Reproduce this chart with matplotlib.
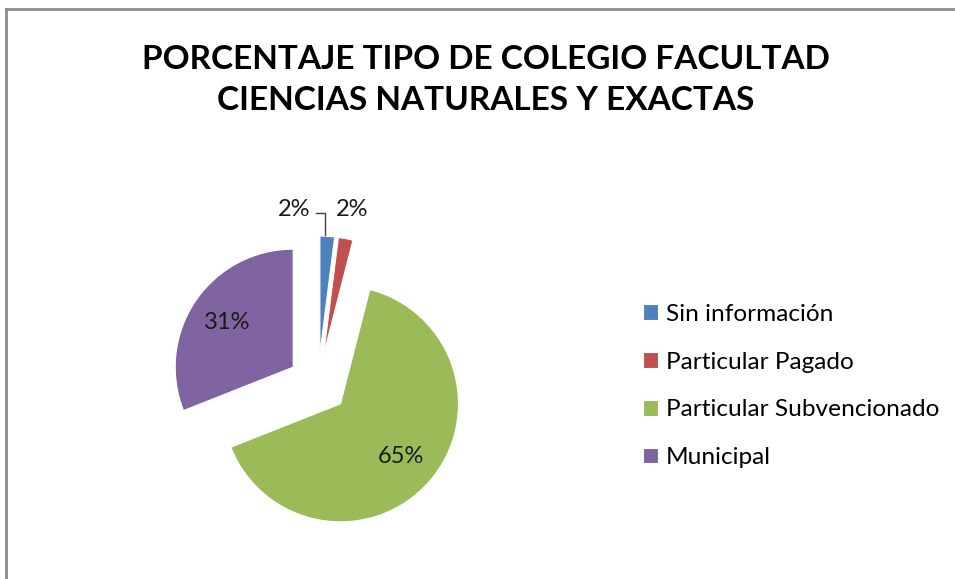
import numpy as np
import matplotlib.pyplot as plt

# data
categories = ['Sin información', 'Particular Pagado', 'Particular Subvencionado', 'Municipal']
percent = [2, 2, 65, 31]
colors = ['#4F81BD', '#C0504D', '#9BBB59', '#8064A2']
title = 'PORCENTAJE TIPO DE COLEGIO FACULTAD\nCIENCIAS NATURALES Y EXACTAS'

plt.rcParams['font.family'] = ['Lato', 'DejaVu Sans']

W, H = 955, 579
fig = plt.figure(figsize=(W / 100, H / 100), dpi=100)

# pie centre and radius in pixels (from the picture)
cx, cy, r = 318, 579 - 384, 118
half = 200
ax = fig.add_axes([(cx - half) / W, (cy - half) / H, 2 * half / W, 2 * half / H])

explode = [0.254] * len(percent)
wedges, texts, autotexts = ax.pie(
    percent, colors=colors, explode=explode, startangle=90, counterclock=False,
    autopct=lambda p: f'{p:.0f}%', pctdistance=0.68,
    wedgeprops=dict(edgecolor='white', linewidth=0.8),
    textprops=dict(fontsize=17, color='#1a1a1a'))
lim = half / r
ax.set_xlim(-lim, lim)
ax.set_ylim(-lim, lim)
ax.axis('off')

# the two small slices get their labels above the pie
autotexts[0].set_position((-0.203, 1.475))
autotexts[1].set_position((0.29, 1.475))
for t in autotexts[:2]:
    t.set_ha('center')
    t.set_va('center')

# leader line for the first small slice
w = wedges[0]
ang = np.deg2rad((w.theta1 + w.theta2) / 2)
tip_x = w.center[0] + w.r * np.cos(ang) - 0.02
tip_y = w.center[1] + w.r * np.sin(ang) + 0.01
ax.plot([-0.02, tip_x, tip_x], [1.449, 1.449, tip_y], color='#404040', lw=1, clip_on=False)

fig.text(486 / W, 1 - 80 / H, title, ha='center', va='center', fontsize=24,
         fontweight='bold', linespacing=1.5)

fig.legend(wedges, categories, loc='center left', bbox_to_anchor=(621 / W, 1 - 386 / H),
           frameon=False, fontsize=17.6, handlelength=0.6, handleheight=0.6,
           handletextpad=0.33, labelspacing=1.1)

# grey chart border (top and left only visible)
fig.add_artist(plt.Line2D([6 / W, 1], [1 - 9 / H, 1 - 9 / H], color='#8c8c8c', lw=2))
fig.add_artist(plt.Line2D([6 / W, 6 / W], [0, 1 - 9 / H], color='#8c8c8c', lw=2))

fig.savefig('out.png', dpi=100)
